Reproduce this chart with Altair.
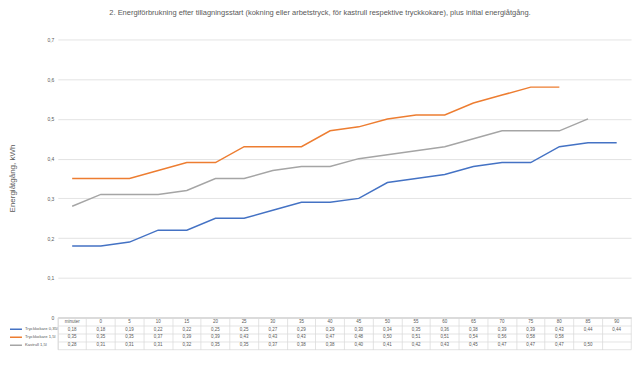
import altair as alt
import pandas as pd

categories = ["minuter", "0", "5", "10", "15", "20", "25", "30", "35", "40",
              "45", "50", "55", "60", "65", "70", "75", "80", "85", "90"]
series_names = ["Tryckkokare 0,35l", "Tryckkokare 1,5l", "Kastrull 1,5l"]
tryck_035 = [0.18, 0.18, 0.19, 0.22, 0.22, 0.25, 0.25, 0.27, 0.29, 0.29,
             0.30, 0.34, 0.35, 0.36, 0.38, 0.39, 0.39, 0.43, 0.44, 0.44]
tryck_15 = [0.35, 0.35, 0.35, 0.37, 0.39, 0.39, 0.43, 0.43, 0.43, 0.47,
            0.48, 0.50, 0.51, 0.51, 0.54, 0.56, 0.58, 0.58, None, None]
kastrull_15 = [0.28, 0.31, 0.31, 0.31, 0.32, 0.35, 0.35, 0.37, 0.38, 0.38,
               0.40, 0.41, 0.42, 0.43, 0.45, 0.47, 0.47, 0.47, 0.50, None]
y_ticks = [0, 0.1, 0.2, 0.3, 0.4, 0.5, 0.6, 0.7]
colors = ["#4472C4", "#ED7D31", "#A5A5A5"]
title_text = ("2. Energiförbrukning efter tillagningsstart (kokning eller arbetstryck, "
              "för kastrull respektive tryckkokare), plus initial energiåtgång.")

FONT = "Liberation Sans"
GREY = "#595959"
GRID = "#d9d9d9"
W = 575

rows = []
table_rows = []
for c in categories:
    table_rows.append({"cat": c, "row": "h", "text": c})
for name, vals in zip(series_names, [tryck_035, tryck_15, kastrull_15]):
    for c, v in zip(categories, vals):
        rows.append({"cat": c, "serie": name, "value": v})
        if v is not None:
            table_rows.append({"cat": c, "row": name, "text": f"{v:.2f}".replace(".", ",")})
df = pd.DataFrame(rows)
tdf = pd.DataFrame(table_rows)
row_domain = ["h"] + series_names

lines = alt.Chart(df).transform_filter("isValid(datum.value)").mark_line(
    strokeWidth=1.5
).encode(
    x=alt.X("cat:N", sort=categories,
            scale=alt.Scale(type="point", domain=categories, padding=0.5),
            axis=alt.Axis(labels=False, ticks=False, domain=True, domainColor="#bfbfbf",
                          domainWidth=0.75, grid=False, title=None)),
    y=alt.Y("value:Q", scale=alt.Scale(domain=[0, 0.7], nice=False, zero=True),
            axis=alt.Axis(values=y_ticks,
                          labelExpr="replace(format(datum.value, '~g'), '.', ',')",
                          labelFontSize=5, labelColor=GREY, labelFont=FONT, labelPadding=4,
                          ticks=False, domain=False, gridColor=GRID, gridWidth=0.75,
                          title="Energiåtgång, kWh", titleFontSize=8, titleColor=GREY,
                          titleFont=FONT, titleFontWeight="normal", titleAngle=270,
                          titleAlign="center", titleBaseline="top", titleX=-49, titleY=139)),
    color=alt.Color("serie:N", sort=series_names,
                    scale=alt.Scale(domain=series_names, range=colors),
                    legend=alt.Legend(orient="none", legendX=-49, legendY=287, title=None,
                                      symbolType="stroke", symbolSize=144,
                                      symbolStrokeWidth=1.5, labelFontSize=4.2,
                                      labelColor=GREY, labelFont=FONT, labelOffset=2,
                                      clipHeight=7.7, rowPadding=0, padding=0,
                                      direction="vertical")),
).properties(width=W, height=279)

table = alt.Chart(tdf).mark_text(fontSize=4.5, color=GREY, font=FONT).encode(
    x=alt.X("cat:N", sort=categories,
            scale=alt.Scale(type="band", domain=categories, paddingInner=0, paddingOuter=0),
            axis=alt.Axis(orient="top", grid=True, bandPosition=0, labels=False, ticks=False,
                          domain=False, title=None, gridColor=GRID, gridWidth=0.75)),
    y=alt.Y("row:N", sort=row_domain,
            scale=alt.Scale(type="band", domain=row_domain, paddingInner=0, paddingOuter=0),
            axis=alt.Axis(grid=True, bandPosition=0, labels=False, ticks=False,
                          domain=False, title=None, gridColor=GRID, gridWidth=0.75)),
    text="text:N",
).properties(width=W, height=32,
             view=alt.ViewBackground(stroke=GRID, strokeWidth=0.75))

chart = alt.vconcat(lines, table, spacing=0, bounds="flush").resolve_scale(
    x="independent", y="independent", color="independent"
).resolve_legend(color="independent").properties(
    title=alt.Title(title_text, fontSize=7.5, color=GREY, font=FONT, fontWeight="normal",
                    offset=21, anchor="middle"),
    padding=0,
).configure_view(stroke="transparent")

chart.save("out.html", embed_options={"renderer": "svg", "actions": False})
